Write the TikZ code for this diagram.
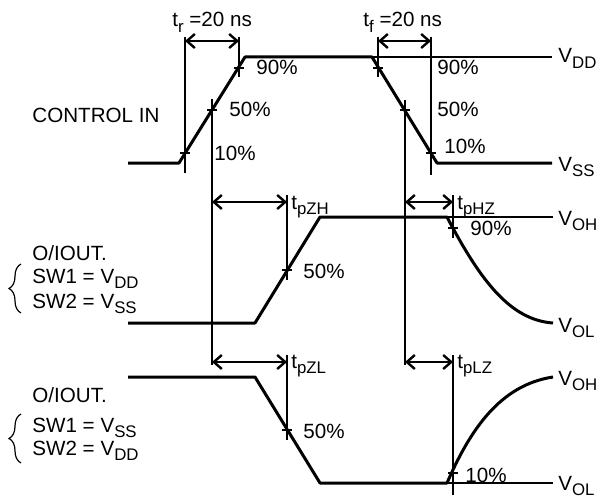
\documentclass[tikz,border=0pt]{standalone}
\usepackage{fontspec}
\setmainfont{Liberation Sans}
\usetikzlibrary{arrows.meta,decorations.pathreplacing}

% indice en bas, assez grand
\newcommand{\sbs}[1]{\raisebox{-0.5ex}{\fontsize{8.4}{9}\selectfont #1}}

\tikzset{
  wave/.style={line width=1.5pt, line join=round},
  fine/.style={line width=0.6pt},
  dimarrow/.style={line width=1.2pt, {Straight Barb[length=4pt,width=7pt]}-{Straight Barb[length=4pt,width=7pt]}},
  lbl/.style={anchor=base west, inner sep=0pt},
  pbrace/.style={fine, decorate, decoration={brace, amplitude=6pt, mirror}}
}

\begin{document}
\begin{tikzpicture}[x=0.5pt, y=-0.5pt, font=\fontsize{10.3}{12}\selectfont]
  \useasboundingbox (0,0) rectangle (608,497);

  %control in
  \draw[wave] (128,163) -- (179,163) -- (245,57) -- (372,57) -- (437,163) -- (552,163);
  \draw[fine] (372,57) -- (552,57);
  %lignes verticales
  \draw[fine] (185,37) -- (185,173);
  \draw[fine] (239,37) -- (239,77);
  \draw[fine] (212,99) -- (212,365);
  \draw[fine] (378,37) -- (378,77);
  \draw[fine] (431,37) -- (431,175);
  \draw[fine] (405,100) -- (405,365);
  %ticks
  \draw[fine] (180,153) -- (190,153);
  \draw[fine] (207,110) -- (217,110);
  \draw[fine] (234,68) -- (244,68);
  \draw[fine] (373,68) -- (383,68);
  \draw[fine] (400,110) -- (410,110);
  \draw[fine] (426,153) -- (436,153);
  %fleches
  \draw[dimarrow] (185,41) -- (239,41);
  \draw[dimarrow] (378,41) -- (431,41);

  \node[lbl] (tr) at (172,27) {t\sbs{r} =20 ns};
  \node[lbl] (tf) at (363,27) {t\sbs{f} =20 ns};
  \node[lbl] (ctl) at (32,123) {CONTROL IN};
  \node[lbl] (r90) at (256,75) {90\%};
  \node[lbl] (r50) at (229,117) {50\%};
  \node[lbl] (r10) at (214,160) {10\%};
  \node[lbl] (f90) at (437,75) {90\%};
  \node[lbl] (f50) at (437,117) {50\%};
  \node[lbl] (f10) at (444,154) {10\%};
  \node[lbl] (vdd) at (558,63) {V\sbs{DD}};
  \node[lbl] (vss) at (558,171) {V\sbs{SS}};

  %sortie 1
  \draw[wave] (128,323) -- (255,323) -- (320,217) -- (447,217)
    .. controls (480,280) and (510,320) .. (553,323);
  \draw[fine] (447,217) -- (553,217);
  \draw[fine] (287,195) -- (287,280);
  \draw[fine] (453,195) -- (453,238);
  \draw[fine] (282,270) -- (292,270);
  \draw[fine] (448,228) -- (458,228);
  \draw[dimarrow] (212,202) -- (287,202);
  \draw[dimarrow] (405,202) -- (453,202);

  \node[lbl] (tpzh) at (291,209) {t\sbs{pZH}};
  \node[lbl] (tphz) at (457,209) {t\sbs{pHZ}};
  \node[lbl] (a50) at (303,278) {50\%};
  \node[lbl] (a90) at (470,235) {90\%};
  \node[lbl] (voha) at (558,225) {V\sbs{OH}};
  \node[lbl] (vola) at (558,332) {V\sbs{OL}};
  \node[lbl] (outa) at (32,260) {O/IOUT.};
  \node[lbl] (swa1) at (32,283) {SW1 = V\sbs{DD}};
  \node[lbl] (swa2) at (32,308) {SW2 = V\sbs{SS}};
  \draw[pbrace] (21,264) -- (21,313);

  %sortie 2
  \draw[wave] (128,377) -- (255,377) -- (320,483) -- (447,483)
    .. controls (470,430) and (500,385) .. (553,377);
  \draw[fine] (447,483) -- (553,483);
  \draw[fine] (287,355) -- (287,440);
  \draw[fine] (453,355) -- (453,495);
  \draw[fine] (282,430) -- (292,430);
  \draw[fine] (448,473) -- (458,473);
  \draw[dimarrow] (212,362) -- (287,362);
  \draw[dimarrow] (405,362) -- (453,362);

  \node[lbl] (tpzl) at (291,368) {t\sbs{pZL}};
  \node[lbl] (tplz) at (457,368) {t\sbs{pLZ}};
  \node[lbl] (b50) at (303,438) {50\%};
  \node[lbl] (b10) at (465,482) {10\%};
  \node[lbl] (vohb) at (558,385) {V\sbs{OH}};
  \node[lbl] (volb) at (558,490) {V\sbs{OL}};
  \node[lbl] (outb) at (32,402) {O/IOUT.};
  \node[lbl] (swb1) at (32,432) {SW1 = V\sbs{SS}};
  \node[lbl] (swb2) at (32,455) {SW2 = V\sbs{DD}};
  \draw[pbrace] (21,414) -- (21,463);
\end{tikzpicture}
\end{document}
